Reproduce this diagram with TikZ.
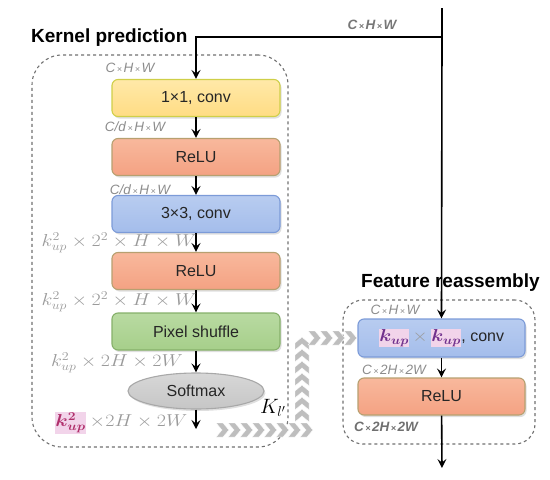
\documentclass[tikz,border=0pt]{standalone}
\usepackage{fontspec}
\setmainfont{Liberation Sans}
\usepackage{amsmath,bm}
\usetikzlibrary{arrows.meta,shapes.geometric,shadows}
\definecolor{yfill}{HTML}{FFDC84}
\definecolor{ytop}{HTML}{FFE9A8}
\definecolor{ydraw}{HTML}{CFCF48}
\definecolor{rfill}{HTML}{F4A283}
\definecolor{rtop}{HTML}{F8B89C}
\definecolor{rdraw}{HTML}{B7A070}
\definecolor{bfill}{HTML}{A4BDEB}
\definecolor{btop}{HTML}{B8CCF0}
\definecolor{bdraw}{HTML}{7C9BD8}
\definecolor{gfill}{HTML}{A6CF8A}
\definecolor{gtop}{HTML}{B9DAA2}
\definecolor{gdraw}{HTML}{86B06A}
\definecolor{sfill}{HTML}{C6C6C6}
\definecolor{sdraw}{HTML}{A8A8A8}
\definecolor{labgray}{HTML}{8C8C8C}
\definecolor{mathgray}{HTML}{9A9A9A}
\definecolor{dashgray}{HTML}{707070}
\definecolor{chevgray}{HTML}{BEBEBE}
\definecolor{kmag}{HTML}{B0306C}
\definecolor{kpur}{HTML}{70308C}
\definecolor{pinkbg}{HTML}{F2D4EA}
\newcommand\smx{{\fontsize{9}{9}\selectfont\,×\,}}
\tikzset{
  blk/.style={draw, line width=1.1pt, rounded corners=6pt, minimum width=168pt,
    minimum height=37pt, font=\fontsize{16}{18}\selectfont, text=black!85,
    drop shadow={shadow xshift=1.5pt, shadow yshift=-2pt, opacity=0.25}},
  yblk/.style={blk, draw=ydraw, top color=ytop, bottom color=yfill},
  rblk/.style={blk, draw=rdraw, top color=rtop, bottom color=rfill},
  bblk/.style={blk, draw=bdraw, top color=btop, bottom color=bfill},
  gblk/.style={blk, draw=gdraw, top color=gtop, bottom color=gfill},
  lab/.style={text=labgray, font=\fontsize{13.5}{15}\selectfont\itshape, inner sep=0pt},
  mlab/.style={text=mathgray, font=\fontsize{16.5}{19}\selectfont, inner sep=0pt},
  ttl/.style={font=\fontsize{19}{22}\selectfont\bfseries, text=black, inner sep=0pt},
  dbox/.style={draw=dashgray, dashed, line width=1.1pt},
  arr/.style={-{Stealth[length=9pt,width=9pt,inset=3.5pt]}, line width=1.6pt},
  chevR/.pic={\fill[chevgray, draw=white, line width=0.4pt] (-6,-7) -- (1,-7) -- (7,0) -- (1,7) -- (-6,7) -- (0,0) -- cycle;},
  chevU/.pic={\fill[chevgray, draw=white, line width=0.4pt] (-7,6) -- (-7,-1) -- (0,-7) -- (7,-1) -- (7,6) -- (0,0) -- cycle;}
}
\begin{document}
\begin{tikzpicture}[x=1pt,y=-1pt]
\useasboundingbox (0,0) rectangle (550,480);
% dashed frames
\node[dbox, rounded corners=30pt, minimum width=256pt, minimum height=392pt] (kp) at (160,251) {};
\node[dbox, rounded corners=20pt, minimum width=192pt, minimum height=144pt] (fr) at (439,372) {};
% titles
\node[ttl, anchor=west] (kt) at (31,38) {Kernel prediction};
\node[ttl, anchor=west] (ft) at (361,283) {Feature reassembly};
% kernel prediction blocks
\node[yblk] (c1) at (196,98) {1×1, conv};
\node[rblk] (r1) at (196,157) {ReLU};
\node[bblk] (c3) at (196,214) {3×3, conv};
\node[rblk] (r2) at (196,271) {ReLU};
\node[gblk] (ps) at (196,331.5) {Pixel shuffle};
\node[ellipse, draw=sdraw, line width=1.1pt, top color=sfill!70!white, bottom color=sfill,
  minimum width=136pt, minimum height=36pt, font=\fontsize{16}{18}\selectfont, text=black!85,
  drop shadow={shadow xshift=1.5pt, shadow yshift=-2pt, opacity=0.25}] (sm) at (196,391) {Softmax};
% feature reassembly blocks
\node[bblk, minimum width=167pt, minimum height=38pt] (rc) at (441.5,338)
  {\setlength\fboxsep{0.5pt}\scalebox{1.12}[1]{\fontsize{17}{19}\selectfont\colorbox{pinkbg}{\color{kpur}$\bm{k_{up}}$}\,{\color{mathgray}$\times$}\,\colorbox{pinkbg}{\color{kpur}$\bm{k_{up}}$}}, conv};
\node[rblk, minimum width=167pt] (rr) at (441.5,396.5) {ReLU};
% coordinates
\coordinate (top) at (442,8);
\coordinate (split) at (442,37);
\coordinate (kout) at (196,429);
\coordinate (out) at (442,468);
% connectors
\draw[line width=1.6pt] (top) -- (split);
\draw[arr] (split) -- (rc.north);
\draw[arr] (split) -| (c1.north);
\draw[arr] (c1) -- (r1);
\draw[arr] (r1) -- (c3);
\draw[arr] (c3) -- (r2);
\draw[arr] (r2) -- (ps);
\draw[arr] (ps) -- (sm);
\draw[arr] (sm) -- (kout);
\draw[arr] (rc) -- (rr);
\draw[arr] (rr) -- (out);
% labels
\node[lab, font=\fontsize{13.5}{15}\selectfont\bfseries\itshape, text=labgray!85!black] (l0) at (372,25) {C\smx H\smx W};
\node[lab] (l1) at (130,68) {C\smx H\smx W};
\node[lab] (l2) at (135,127) {C/d\smx H\smx W};
\node[lab] (l3) at (140,190) {C/d\smx H\smx W};
\node[mlab] (l4) at (119,243) {\scalebox{1.16}[1]{$k_{up}^2\times 2^2\times H\times W$}};
\node[mlab] (l5) at (119,302) {\scalebox{1.16}[1]{$k_{up}^2\times 2^2\times H\times W$}};
\node[mlab] (l6) at (117,363) {\scalebox{1.16}[1]{$k_{up}^2\times 2H\times 2W$}};
\node[mlab] (l7) at (121,423) {\scalebox{1.16}[1]{{\setlength\fboxsep{0.5pt}\colorbox{pinkbg}{\color{kmag}$\bm{k_{up}^2}$}}$\,\times 2H\times 2W$}};
\node[inner sep=0pt, font=\fontsize{21}{24}\selectfont] (kl) at (273,408) {$K_{l'}$};
\node[lab] (l8) at (395,310) {C\smx H\smx W};
\node[lab] (l9) at (394,370) {C\smx 2H\smx 2W};
\node[lab, font=\fontsize{13.5}{15}\selectfont\bfseries\itshape, text=labgray!80!black] (l10) at (386,427) {C\smx 2H\smx 2W};
% chevron path K_l' -> feature reassembly
\foreach \x in {222,234,...,306} \pic at (\x,430) {chevR};
\foreach \y in {416,404,...,338} \pic at (302,\y) {chevU};
\foreach \x in {314,326,...,350} \pic at (\x,338) {chevR};
\end{tikzpicture}
\end{document}
